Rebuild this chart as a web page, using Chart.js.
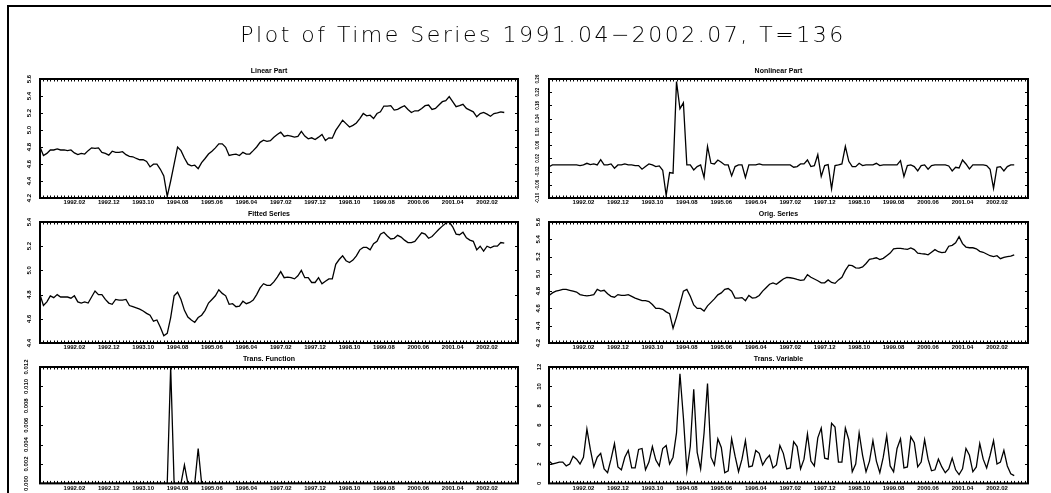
<!DOCTYPE html>
<html>
<head>
<meta charset="utf-8">
<script src="https://cdn.jsdelivr.net/npm/chart.js@4.4.1/dist/chart.umd.min.js"></script>
<style>
  body { margin: 0; background: #fff; width: 1051px; height: 493px; overflow: hidden; position: relative; }
  #frame { position: absolute; left: 7px; top: 5px; width: 1044px; height: 488px; border-left: 2px solid #000; border-top: 2px solid #000; box-sizing: border-box; }
  #title { position: absolute; top: 22px; left: 0; width: 1086px; text-align: center; font: 200 22px "DejaVu Sans"; letter-spacing: 2.5px; color: #000; white-space: nowrap; will-change: transform; }
  canvas { position: absolute; }
</style>
</head>
<body>
<div id="frame"></div>
<div id="title">Plot of Time Series 1991.04−2002.07, T=136</div>
<canvas id="linear" width="505" height="150" style="left:20px;top:62px"></canvas>
<canvas id="nonlinear" width="506" height="150" style="left:529px;top:62px"></canvas>
<canvas id="fitted" width="505" height="152" style="left:20px;top:205px"></canvas>
<canvas id="orig" width="506" height="152" style="left:529px;top:205px"></canvas>
<canvas id="transfn" width="505" height="143" style="left:20px;top:350px"></canvas>
<canvas id="transvar" width="506" height="143" style="left:529px;top:350px"></canvas>
<script>
// monthly observations 1991.04 .. 2002.07 (index 0..135)
const xTickPos = [10, 20, 30, 40, 50, 60, 70, 80, 90, 100, 110, 120, 130];
const xTickLabels = ['1992.02', '1992.12', '1993.10', '1994.08', '1995.06', '1996.04', '1997.02',
  '1997.12', '1998.10', '1999.08', '2000.06', '2001.04', '2002.02'];

const linearPart = [
  4.80, 4.70, 4.725, 4.765, 4.765, 4.777, 4.765, 4.765, 4.757, 4.765,
  4.73, 4.71, 4.725, 4.717, 4.757, 4.79, 4.785, 4.79, 4.737, 4.725,
  4.705, 4.75, 4.737, 4.737, 4.745, 4.71, 4.69, 4.685, 4.665, 4.65,
  4.65, 4.63, 4.566, 4.598, 4.598, 4.538, 4.459, 4.22, 4.40, 4.598,
  4.80, 4.757, 4.67, 4.598, 4.578, 4.586, 4.546, 4.617, 4.665, 4.717,
  4.75, 4.79, 4.837, 4.837, 4.797, 4.70, 4.71, 4.717, 4.70, 4.737,
  4.717, 4.717, 4.757, 4.80, 4.855, 4.88, 4.867, 4.875, 4.915, 4.948,
  4.975, 4.924, 4.936, 4.928, 4.916, 4.924, 4.983, 4.928, 4.896, 4.908,
  4.888, 4.916, 4.948, 4.876, 4.908, 4.904, 4.995, 5.055, 5.115, 5.075,
  5.035, 5.055, 5.083, 5.135, 5.194, 5.166, 5.174, 5.135, 5.194, 5.214,
  5.282, 5.282, 5.286, 5.234, 5.242, 5.266, 5.286, 5.242, 5.206, 5.226,
  5.226, 5.254, 5.286, 5.294, 5.242, 5.254, 5.294, 5.333, 5.345, 5.393,
  5.333, 5.274, 5.286, 5.302, 5.254, 5.234, 5.214, 5.155, 5.194, 5.206,
  5.186, 5.162, 5.194, 5.202, 5.214, 5.206
];

const nonlinearPart = [
  -0.005, 0, 0, 0, 0, 0, 0, 0, 0, -0.002,
  0, 0.005, 0.001, 0.003, 0, 0.016, 0, 0, 0.003, -0.01,
  0, 0, 0.003, 0, 0, -0.002, -0.002, -0.013, -0.005, 0.003,
  0, -0.005, -0.003, -0.016, -0.092, -0.023, -0.025, 0.252, 0.17, 0.188,
  0, 0, -0.015, -0.005, 0, -0.038, 0.056, 0.005, 0.003, 0.015,
  0.008, 0, 0, -0.033, -0.005, 0, 0, -0.038, 0, 0,
  0, 0.003, 0, 0, 0, 0, 0, 0, 0, 0,
  0, -0.007, -0.005, 0.003, 0.003, 0.015, -0.005, -0.002, 0.031, -0.035,
  -0.002, 0.001, -0.072, -0.002, 0, 0.003, 0.056, 0.011, -0.005, -0.005,
  0.005, -0.002, 0, 0, 0, 0.005, -0.002, 0, 0, 0,
  0, 0, 0.013, -0.035, -0.002, 0, -0.005, -0.018, -0.002, 0,
  -0.013, -0.002, 0, 0, 0, 0, -0.003, -0.018, -0.007, -0.009,
  0.015, 0.003, -0.012, 0, 0, 0, 0, -0.002, -0.013, -0.071,
  -0.007, -0.005, -0.018, -0.005, 0, 0
];

const fittedSeries = [
  4.80, 4.71, 4.74, 4.79, 4.775, 4.80, 4.78, 4.78, 4.78, 4.77,
  4.79, 4.74, 4.73, 4.74, 4.73, 4.78, 4.83, 4.80, 4.80, 4.76,
  4.73, 4.72, 4.76, 4.755, 4.755, 4.76, 4.71, 4.70, 4.69, 4.68,
  4.665, 4.645, 4.63, 4.58, 4.59, 4.53, 4.46, 4.48, 4.61, 4.79,
  4.82, 4.76, 4.67, 4.615, 4.59, 4.57, 4.61, 4.63, 4.67, 4.73,
  4.76, 4.79, 4.84, 4.81, 4.79, 4.72, 4.725, 4.70, 4.705, 4.745,
  4.725, 4.735, 4.755, 4.80, 4.855, 4.89, 4.876, 4.877, 4.905, 4.945,
  4.99, 4.94, 4.945, 4.94, 4.93, 4.955, 5.00, 4.94, 4.94, 4.90,
  4.90, 4.94, 4.89, 4.91, 4.93, 4.93, 5.05, 5.09, 5.12, 5.08,
  5.065, 5.085, 5.12, 5.17, 5.19, 5.19, 5.17, 5.22, 5.24, 5.30,
  5.315, 5.285, 5.26, 5.265, 5.29, 5.275, 5.25, 5.23, 5.23, 5.24,
  5.275, 5.31, 5.30, 5.266, 5.28, 5.31, 5.34, 5.366, 5.39, 5.40,
  5.36, 5.30, 5.295, 5.315, 5.27, 5.25, 5.24, 5.17, 5.20, 5.16,
  5.20, 5.187, 5.20, 5.20, 5.23, 5.225
];

const origSeries = [
  4.75, 4.78, 4.80, 4.81, 4.82, 4.82, 4.81, 4.80, 4.79, 4.76,
  4.75, 4.745, 4.75, 4.76, 4.82, 4.80, 4.81, 4.77, 4.74, 4.73,
  4.76, 4.75, 4.75, 4.76, 4.74, 4.72, 4.705, 4.69, 4.69, 4.68,
  4.645, 4.60, 4.60, 4.59, 4.56, 4.54, 4.37, 4.50, 4.65, 4.80,
  4.82, 4.74, 4.64, 4.60, 4.60, 4.57, 4.63, 4.67, 4.71, 4.757,
  4.78, 4.82, 4.83, 4.80, 4.72, 4.72, 4.725, 4.69, 4.75, 4.72,
  4.725, 4.75, 4.80, 4.84, 4.88, 4.896, 4.88, 4.91, 4.94, 4.96,
  4.955, 4.948, 4.936, 4.925, 4.93, 4.99, 4.96, 4.94, 4.92, 4.896,
  4.896, 4.93, 4.90, 4.89, 4.93, 4.96, 5.04, 5.10, 5.095, 5.07,
  5.067, 5.08, 5.12, 5.167, 5.175, 5.186, 5.165, 5.18, 5.21, 5.24,
  5.29, 5.294, 5.294, 5.288, 5.284, 5.30, 5.28, 5.24, 5.234, 5.23,
  5.22, 5.25, 5.28, 5.256, 5.246, 5.252, 5.32, 5.33, 5.36, 5.43,
  5.35, 5.31, 5.302, 5.302, 5.29, 5.26, 5.25, 5.23, 5.21, 5.20,
  5.21, 5.175, 5.19, 5.20, 5.205, 5.22
];

const transFunction = [
  0, 0, 0, 0, 0, 0, 0, 0, 0, 0,
  0, 0, 0, 0, 0, 0, 0, 0, 0, 0,
  0, 0, 0, 0, 0, 0, 0, 0, 0, 0,
  0, 0, 0, 0, 0, 0, 0, 0, 0.012, 0,
  0, 0, 0.0019, 0, 0, 0, 0.0036, 0, 0, 0,
  0, 0, 0, 0, 0, 0, 0, 0, 0, 0,
  0, 0, 0, 0, 0, 0, 0, 0, 0, 0,
  0, 0, 0, 0, 0, 0, 0, 0, 0, 0,
  0, 0, 0, 0, 0, 0, 0, 0, 0, 0,
  0, 0, 0, 0, 0, 0, 0, 0, 0, 0,
  0, 0, 0, 0, 0, 0, 0, 0, 0, 0,
  0, 0, 0, 0, 0, 0, 0, 0, 0, 0,
  0, 0, 0, 0, 0, 0, 0, 0, 0, 0,
  0, 0, 0, 0, 0, 0
];

const transVariable = [
  2.3, 2.0, 2.1, 2.2, 2.2, 1.8, 2.0, 2.8, 2.5, 2.0,
  2.7, 5.6, 3.5, 1.7, 2.7, 3.1, 1.5, 1.1, 2.5, 4.1,
  1.7, 1.4, 2.7, 3.4, 1.6, 1.6, 3.5, 3.6, 1.4, 2.2,
  3.8, 2.4, 1.8, 3.6, 3.9, 2.0, 2.7, 5.2, 11.3, 6.8,
  1.3, 3.8, 9.7, 3.2, 1.5, 5.2, 10.3, 2.7, 1.9, 4.6,
  3.7, 1.1, 1.3, 4.6, 2.8, 1.2, 2.5, 4.4, 1.7, 1.8,
  3.4, 3.1, 1.9, 2.5, 2.9, 1.6, 1.9, 3.9, 3.1, 1.5,
  1.6, 4.3, 3.8, 1.5, 2.5, 5.1, 2.3, 1.8, 4.7, 5.7,
  2.6, 2.5, 6.2, 5.8, 2.2, 2.2, 5.7, 4.5, 1.2, 2.0,
  5.2, 2.9, 1.2, 2.3, 4.4, 2.3, 1.1, 2.7, 4.9, 1.8,
  1.2, 3.6, 4.6, 1.6, 1.7, 4.8, 4.2, 1.7, 2.2, 4.5,
  2.5, 1.3, 1.4, 2.5, 1.7, 1.1, 1.5, 2.6, 1.4, 0.9,
  1.5, 3.6, 2.9, 1.2, 1.7, 4.1, 2.5, 1.6, 2.9, 4.4,
  2.0, 2.2, 3.4, 1.8, 1.0, 0.8
];

const tickFont = { family: 'Liberation Sans', size: 6, weight: 'bold' };
const smallTickFont = { family: 'Liberation Sans', size: 4.5, weight: 'bold' };

// thick box round the plot area, inward ticks like the original graphics
const boxPlugin = {
  id: 'box',
  afterDatasetsDraw(chart) {
    const { ctx, chartArea: a, scales: { x, y } } = chart;
    ctx.save();
    ctx.strokeStyle = '#000';
    ctx.lineWidth = 1;
    ctx.beginPath();
    for (let v = 1; v < 139; v++) {
      const px = Math.round(x.getPixelForValue(v)) + 0.5;
      ctx.moveTo(px, a.top); ctx.lineTo(px, a.top + 2.5);
      ctx.moveTo(px, a.bottom); ctx.lineTo(px, a.bottom - 2.5);
    }
    y.ticks.forEach(t => {
      const py = Math.round(y.getPixelForValue(t.value)) + 0.5;
      ctx.moveTo(a.left, py); ctx.lineTo(a.left + 3, py);
      ctx.moveTo(a.right, py); ctx.lineTo(a.right - 3, py);
    });
    ctx.stroke();
    ctx.lineWidth = 2;
    ctx.strokeRect(a.left, a.top, a.width, a.height);
    ctx.restore();
  }
};

function makePanel(id, title, values, yMin, yMax, yStep, dec, xAxisH, yFont) {
  new Chart(document.getElementById(id), {
    type: 'line',
    data: {
      datasets: [{
        data: values.map((v, i) => ({ x: i, y: v })),
        borderColor: '#000',
        borderWidth: 1.3,
        pointRadius: 0,
        tension: 0,
        fill: false
      }]
    },
    options: {
      responsive: false,
      animation: false,
      layout: { padding: { top: 0, right: 7, bottom: 0, left: 0 } },
      plugins: {
        legend: { display: false },
        tooltip: { enabled: false },
        title: {
          display: true, text: title, color: '#000',
          font: { family: 'Liberation Sans', size: 7, weight: 'bold' },
          padding: { top: 5, bottom: 3.6 }
        }
      },
      scales: {
        x: {
          type: 'linear', min: 0, max: 139,
          grid: { display: false, drawTicks: false },
          border: { display: false },
          afterBuildTicks: s => { s.ticks = xTickPos.map(v => ({ value: v })); },
          afterFit: s => { s.height = xAxisH; },
          ticks: {
            autoSkip: false, maxRotation: 0, padding: 1, color: '#000', font: tickFont,
            callback: v => xTickLabels[xTickPos.indexOf(v)]
          }
        },
        y: {
          min: yMin, max: yMax,
          grid: { display: false, drawTicks: false },
          border: { display: false },
          afterFit: s => { s.width = 20; },
          ticks: {
            stepSize: yStep, autoSkip: false, minRotation: 90, maxRotation: 90, crossAlign: 'center',
            padding: 6, color: '#000', font: yFont || tickFont,
            callback: v => Number(v).toFixed(dec)
          }
        }
      }
    },
    plugins: [boxPlugin]
  });
}

makePanel('linear', 'Linear Part', linearPart, 4.2, 5.6, 0.2, 1, 14);
makePanel('nonlinear', 'Nonlinear Part', nonlinearPart, -0.10, 0.26, 0.04, 2, 14, smallTickFont);
makePanel('fitted', 'Fitted Series', fittedSeries, 4.4, 5.4, 0.2, 1, 14);
makePanel('orig', 'Orig. Series', origSeries, 4.2, 5.6, 0.2, 1, 14);
makePanel('transfn', 'Trans. Function', transFunction, 0, 0.012, 0.002, 3, 8);
makePanel('transvar', 'Trans. Variable', transVariable, 0, 12, 2, 0, 8);
</script>
</body>
</html>
